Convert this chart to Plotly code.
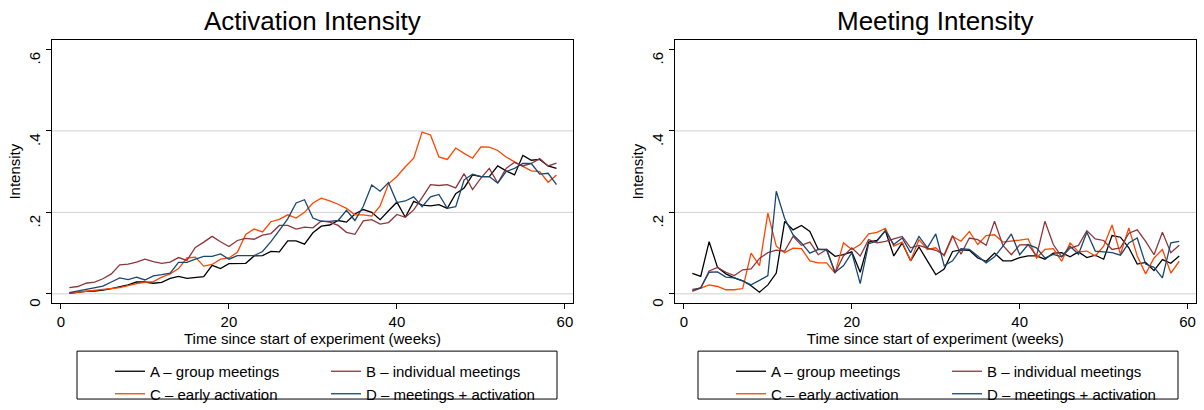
import plotly.graph_objects as go

weeks = list(range(1, 60))

# Activation intensity (left panel)
act_A = [0.001,0.004,0.006,0.007,0.009,0.013,0.017,0.022,0.029,0.029,
         0.026,0.028,0.038,0.043,0.038,0.040,0.042,0.070,0.062,0.074,
         0.075,0.075,0.093,0.094,0.104,0.103,0.130,0.130,0.122,0.150,
         0.166,0.169,0.180,0.176,0.196,0.207,0.200,0.182,0.204,0.225,
         0.188,0.227,0.218,0.216,0.219,0.210,0.246,0.260,0.292,0.288,
         0.288,0.314,0.302,0.292,0.340,0.328,0.330,0.314,0.308]
act_B = [0.015,0.018,0.026,0.029,0.037,0.049,0.071,0.073,0.078,0.085,
         0.079,0.075,0.078,0.089,0.082,0.114,0.127,0.141,0.128,0.116,
         0.131,0.136,0.134,0.144,0.148,0.168,0.168,0.159,0.164,0.162,
         0.179,0.176,0.168,0.151,0.146,0.179,0.182,0.171,0.175,0.195,
         0.188,0.206,0.236,0.268,0.266,0.268,0.260,0.295,0.256,0.284,
         0.308,0.272,0.308,0.323,0.314,0.320,0.332,0.314,0.321]
act_C = [0.002,0.004,0.006,0.009,0.010,0.013,0.015,0.020,0.025,0.028,
         0.030,0.041,0.049,0.062,0.088,0.090,0.068,0.072,0.085,0.088,
         0.102,0.146,0.159,0.152,0.177,0.183,0.194,0.186,0.200,0.223,
         0.235,0.228,0.220,0.210,0.194,0.194,0.191,0.216,0.270,0.288,
         0.312,0.333,0.397,0.390,0.336,0.330,0.358,0.345,0.333,0.361,
         0.360,0.352,0.336,0.324,0.314,0.302,0.300,0.274,0.292]
act_D = [0.003,0.007,0.011,0.015,0.019,0.029,0.039,0.035,0.041,0.034,
         0.044,0.047,0.051,0.077,0.077,0.085,0.092,0.092,0.098,0.085,
         0.094,0.094,0.094,0.104,0.128,0.156,0.184,0.223,0.231,0.186,
         0.178,0.178,0.180,0.205,0.180,0.215,0.267,0.252,0.273,0.224,
         0.228,0.238,0.214,0.238,0.244,0.210,0.214,0.280,0.294,0.288,
         0.288,0.272,0.300,0.308,0.320,0.320,0.294,0.296,0.268]

# Meeting intensity (right panel)
met_A = [0.050,0.043,0.128,0.065,0.049,0.039,0.032,0.020,0.004,0.022,
         0.051,0.178,0.157,0.168,0.153,0.109,0.109,0.092,0.096,0.103,
         0.053,0.127,0.131,0.155,0.093,0.125,0.081,0.115,0.081,0.047,
         0.061,0.104,0.108,0.107,0.088,0.080,0.100,0.081,0.081,0.089,
         0.093,0.093,0.085,0.100,0.101,0.091,0.103,0.089,0.095,0.085,
         0.143,0.139,0.113,0.073,0.077,0.057,0.084,0.075,0.093]
met_B = [0.011,0.014,0.056,0.065,0.053,0.045,0.059,0.061,0.087,0.101,
         0.107,0.105,0.141,0.119,0.127,0.096,0.109,0.051,0.093,0.113,
         0.093,0.133,0.125,0.129,0.135,0.141,0.113,0.119,0.112,0.107,
         0.096,0.143,0.097,0.137,0.133,0.119,0.178,0.119,0.096,0.120,
         0.121,0.093,0.178,0.121,0.091,0.112,0.119,0.155,0.135,0.131,
         0.109,0.113,0.149,0.157,0.129,0.096,0.151,0.101,0.119]
met_C = [0.006,0.014,0.022,0.018,0.010,0.010,0.013,0.100,0.069,0.198,
         0.117,0.101,0.112,0.111,0.081,0.076,0.076,0.051,0.125,0.109,
         0.121,0.147,0.151,0.161,0.117,0.127,0.081,0.133,0.109,0.113,
         0.093,0.141,0.129,0.153,0.121,0.143,0.145,0.127,0.129,0.132,
         0.135,0.088,0.109,0.111,0.080,0.125,0.103,0.105,0.093,0.117,
         0.169,0.097,0.162,0.093,0.049,0.088,0.109,0.051,0.080]
met_D = [0.008,0.015,0.053,0.054,0.041,0.039,0.032,0.022,0.033,0.045,
         0.252,0.185,0.145,0.125,0.100,0.109,0.108,0.053,0.069,0.101,
         0.025,0.123,0.129,0.155,0.121,0.137,0.101,0.141,0.113,0.147,
         0.069,0.081,0.111,0.109,0.093,0.076,0.091,0.117,0.147,0.096,
         0.121,0.113,0.088,0.097,0.091,0.117,0.097,0.151,0.105,0.103,
         0.101,0.095,0.125,0.137,0.073,0.065,0.039,0.125,0.129]

series_names = ["A \u2013 group meetings", "B \u2013 individual meetings",
                "C \u2013 early activation", "D \u2013 meetings + activation"]
colors = ["#000000", "#90353B", "#FF4500", "#1A476F"]

panel_titles = ["Activation Intensity", "Meeting Intensity"]
x_ticks = [0, 20, 40, 60]
y_ticks = [0, 0.2, 0.4, 0.6]
y_ticktext = ["0", ".2", ".4", ".6"]
grid_vals = [0, 0.2, 0.4]

FONT = "Liberation Sans, Arial, Helvetica, sans-serif"
W, H = 1204, 410

fig = go.Figure()

panels = [
    dict(data=[act_A, act_B, act_C, act_D], xa="x", ya="y",
         legs=["legend", "legend2", "legend", "legend2"]),
    dict(data=[met_A, met_B, met_C, met_D], xa="x2", ya="y2",
         legs=["legend3", "legend4", "legend3", "legend4"]),
]
order = [0, 2, 1, 3]  # A, C in first column; B, D in second
for p in panels:
    for i in order:
        fig.add_trace(go.Scatter(
            x=weeks, y=p["data"][i], mode="lines", name=series_names[i],
            line=dict(color=colors[i], width=1.3),
            xaxis=p["xa"], yaxis=p["ya"], legend=p["legs"][i],
            showlegend=True, hoverinfo="skip"))

# plot-area geometry (pixels)
left_dom = [51.7 / W, 573.3 / W]
right_dom = [674.7 / W, 1196 / W]
y_dom = [1 - 310 / H, 1 - 41 / H]
xr = [-1.1, 61.0]
yr = [-0.023, 0.623]

axis_common = dict(showline=True, linecolor="black", linewidth=1, mirror=True,
                   ticks="outside", ticklen=5, tickcolor="black",
                   showgrid=False, zeroline=False,
                   tickfont=dict(family=FONT, size=15, color="black"))

fig.update_layout(
    xaxis=dict(domain=left_dom, range=xr, anchor="y", tickvals=x_ticks,
               title=dict(text="Time since start of experiment (weeks)",
                          font=dict(family=FONT, size=15, color="black"), standoff=4),
               **axis_common),
    yaxis=dict(domain=y_dom, range=yr, anchor="x", tickvals=y_ticks, ticktext=y_ticktext,
               tickangle=-90, ticklabelshift=11,
               title=dict(text="Intensity", font=dict(family=FONT, size=15, color="black"),
                          standoff=1),
               **axis_common),
    xaxis2=dict(domain=right_dom, range=xr, anchor="y2", tickvals=x_ticks,
                title=dict(text="Time since start of experiment (weeks)",
                           font=dict(family=FONT, size=15, color="black"), standoff=4),
                **axis_common),
    yaxis2=dict(domain=y_dom, range=yr, anchor="x2", tickvals=y_ticks, ticktext=y_ticktext,
                tickangle=-90, ticklabelshift=11,
                title=dict(text="Intensity", font=dict(family=FONT, size=15, color="black"),
                           standoff=1),
                **axis_common),
)

# gridlines (0, .2, .4) drawn under the data
shapes = []
for xa, ya in [("x", "y"), ("x2", "y2")]:
    for g in grid_vals:
        shapes.append(dict(type="line", xref=f"{xa} domain", yref=ya, x0=0, x1=1,
                           y0=g, y1=g, line=dict(color="#D0D0D0", width=1), layer="below"))
# legend boxes
for x0, x1 in [(77, 557), (698, 1178)]:
    shapes.append(dict(type="rect", xref="paper", yref="paper",
                       x0=x0 / W, x1=x1 / W, y0=1 - 408 / H, y1=1 - 359 / H,
                       line=dict(color="black", width=1), fillcolor="rgba(0,0,0,0)"))
fig.update_layout(shapes=shapes)

leg_common = dict(orientation="v", yanchor="top", xanchor="left", y=1 - 363 / H,
                  bgcolor="rgba(0,0,0,0)", borderwidth=0,
                  font=dict(family=FONT, size=15, color="black"), tracegroupgap=0)
fig.update_layout(
    legend=dict(x=110 / W, **leg_common),
    legend2=dict(x=326 / W, **leg_common),
    legend3=dict(x=731 / W, **leg_common),
    legend4=dict(x=947 / W, **leg_common),
)

annotations = []
for t, dom in zip(panel_titles, [left_dom, right_dom]):
    annotations.append(dict(text=t, xref="paper", yref="paper",
                            x=(dom[0] + dom[1]) / 2, y=1 - 21 / H,
                            xanchor="center", yanchor="middle", showarrow=False,
                            font=dict(family=FONT, size=26, color="black")))
fig.update_layout(annotations=annotations)

fig.update_layout(width=W, height=H, margin=dict(l=0, r=0, t=0, b=0),
                  paper_bgcolor="white", plot_bgcolor="white",
                  font=dict(family=FONT, color="black"))

fig.write_html("out.html")
